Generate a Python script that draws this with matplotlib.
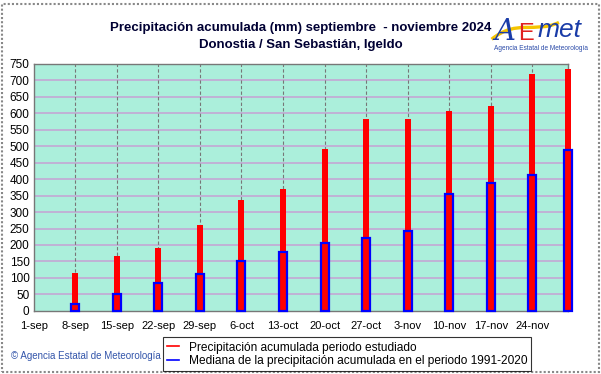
import matplotlib.pyplot as plt
import matplotlib.patches as mpatches
from matplotlib.path import Path
from matplotlib.lines import Line2D

plt.rcParams['font.family'] = ['Liberation Sans', 'DejaVu Sans']

# dias desde el 1-sep
dias = [7, 14, 21, 28, 35, 42, 49, 56, 63, 70, 77, 84, 90]
precip = [116, 167, 190, 261, 338, 371, 493, 583, 583, 608, 621, 719, 735]
mediana = [22, 52, 83, 111, 152, 180, 207, 220, 242, 355, 389, 414, 490]

tick_dias = [0, 7, 14, 21, 28, 35, 42, 49, 56, 63, 70, 77, 84]
tick_labels = ['1-sep', '8-sep', '15-sep', '22-sep', '29-sep', '6-oct', '13-oct',
               '20-oct', '27-oct', '3-nov', '10-nov', '17-nov', '24-nov']

fig = plt.figure(figsize=(6.01, 3.74), dpi=100)
ax = fig.add_axes([0.056, 0.169, 0.889, 0.66])
ax.set_facecolor('#abefdb')

ax.set_xlim(0, 90)
ax.set_ylim(0, 750)
ax.set_yticks(range(0, 751, 50))
ax.set_xticks(tick_dias)
ax.set_xticklabels(tick_labels)
ax.tick_params(length=0, labelsize=8, pad=7)
ax.tick_params(axis='y', pad=3, labelsize=8.5)

for v in range(50, 751, 50):
    ax.axhline(v, color='#c4a8d4', lw=1.2, zorder=1)
for d in tick_dias[1:]:
    ax.axvline(d, color='#777777', lw=0.8, ls=(0, (3, 2)), zorder=1)

ax.bar(dias, precip, width=1.0, color='#ff0000', zorder=3, clip_on=False)
ax.bar(dias, mediana, width=1.35, facecolor='none', edgecolor='#0000ff', lw=1.6,
       zorder=4, clip_on=False)

for s in ax.spines.values():
    s.set_color('#777777')
    s.set_linewidth(1)

fig.text(0.5, 0.925, 'Precipitación acumulada (mm) septiembre  - noviembre 2024',
         ha='center', va='center', fontsize=9.5, fontweight='bold', color='#000033')
fig.text(0.5, 0.88, 'Donostia / San Sebastián, Igeldo',
         ha='center', va='center', fontsize=9.5, fontweight='bold', color='#000033')

# logo
fig.text(0.822, 0.915, 'A', color='#1a3ca8', fontsize=21, style='italic',
         ha='left', va='center', family='DejaVu Serif')
fig.text(0.862, 0.908, 'E', color='#e02020', fontsize=17, ha='left', va='center')
fig.text(0.895, 0.92, 'met', color='#1a3ca8', fontsize=19, style='italic',
         ha='left', va='center')
verts = [(0.818, 0.895), (0.86, 0.95), (0.89, 0.91), (0.93, 0.94)]
sw = mpatches.PathPatch(Path(verts, [Path.MOVETO, Path.CURVE4, Path.CURVE4, Path.CURVE4]),
                        transform=fig.transFigure, fill=False, edgecolor='#f5c400', lw=2.4)
fig.patches.append(sw)
fig.text(0.9, 0.87, 'Agencia Estatal de Meteorología', color='#2a4aa8', fontsize=4.7,
         ha='center', va='center')

fig.text(0.018, 0.048, '© Agencia Estatal de Meteorología', color='#3355aa',
         fontsize=7, ha='left', va='center')

handles = [Line2D([], [], color='#ff0000', lw=1.2),
           Line2D([], [], color='#0000ff', lw=1.2)]
leg = fig.legend(handles, ['Precipitación acumulada periodo estudiado',
                           'Mediana de la precipitación acumulada en el periodo 1991-2020'],
                 loc='lower left', bbox_to_anchor=(0.271, 0.008), fontsize=8.6,
                 frameon=True, fancybox=False, handlelength=1.0, handletextpad=0.8,
                 borderpad=0.35, labelspacing=0.1, borderaxespad=0)
leg.get_frame().set_edgecolor('#000000')
leg.get_frame().set_linewidth(0.8)

border = mpatches.Rectangle((0.004, 0.006), 0.992, 0.984, transform=fig.transFigure,
                            fill=False, edgecolor='#888888', lw=1.5, ls=(0, (1, 1)))
fig.patches.append(border)

fig.savefig('out.png', dpi=100)
